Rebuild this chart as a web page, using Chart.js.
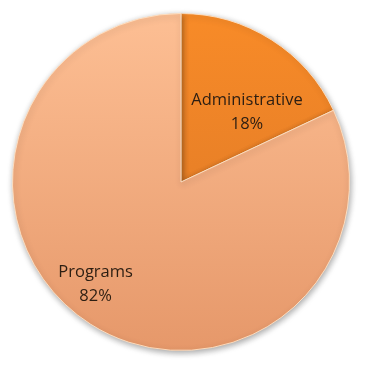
<!DOCTYPE html>
<html>
<head>
<meta charset="utf-8">
<script src="https://cdn.jsdelivr.net/npm/chart.js@4/dist/chart.umd.min.js"></script>
<style>
  html, body { margin: 0; padding: 0; background: #fff; }
  #wrap { width: 365px; height: 365px; }
</style>
</head>
<body>
<div id="wrap"><canvas id="pie"></canvas></div>
<script>
const categorias = ["Administrative", "Programs"];
const valores = [18, 82];
const etiquetas = ["18%", "82%"];

// colores degradados arriba -> abajo
const coloresArriba = ["#f88b28", "#fdbf94"];
const coloresAbajo = ["#d97526", "#e6986a"];

// ajuste de etiquetas (angulo extra en grados, radio relativo)
const ajusteEtiqueta = [{ ang: 11, r: 0.57 }, { ang: 7.5, r: 0.79 }];

function degradado(ctx) {
  const chart = ctx.chart;
  const area = chart.chartArea;
  if (!area) return coloresArriba[ctx.dataIndex];
  const g = chart.ctx.createLinearGradient(0, area.top, 0, area.bottom);
  g.addColorStop(0, coloresArriba[ctx.dataIndex]);
  g.addColorStop(1, coloresAbajo[ctx.dataIndex]);
  return g;
}

const sombra = {
  id: "sombra",
  beforeDatasetsDraw(chart) {
    const c = chart.ctx;
    c.save();
    c.shadowColor = "rgba(0,0,0,0.35)";
    c.shadowBlur = 6;
    c.shadowOffsetX = 1;
    c.shadowOffsetY = 2;
  },
  afterDatasetsDraw(chart) {
    chart.ctx.restore();
  }
};

const textos = {
  id: "textos",
  afterDraw(chart) {
    const c = chart.ctx;
    const meta = chart.getDatasetMeta(0);
    c.save();
    c.font = "16.5px 'Open Sans'";
    c.fillStyle = "#2c1e12";
    c.textAlign = "center";
    c.textBaseline = "middle";
    meta.data.forEach((arc, i) => {
      const a = (arc.startAngle + arc.endAngle) / 2 + ajusteEtiqueta[i].ang * Math.PI / 180;
      const r = arc.outerRadius * ajusteEtiqueta[i].r;
      const x = arc.x + Math.cos(a) * r;
      const y = arc.y + Math.sin(a) * r;
      c.fillText(categorias[i], x, y - 12);
      c.fillText(etiquetas[i], x, y + 12);
    });
    c.restore();
  }
};

new Chart(document.getElementById("pie"), {
  type: "pie",
  data: {
    labels: categorias,
    datasets: [{
      data: valores,
      backgroundColor: degradado,
      borderColor: "rgba(255,225,195,0.9)",
      borderWidth: 1,
      hoverOffset: 0
    }]
  },
  options: {
    responsive: true,
    maintainAspectRatio: false,
    animation: false,
    layout: { padding: { left: 12, right: 15, top: 13, bottom: 14 } },
    plugins: {
      legend: { display: false },
      tooltip: { enabled: false }
    }
  },
  plugins: [sombra, textos]
});
</script>
</body>
</html>
